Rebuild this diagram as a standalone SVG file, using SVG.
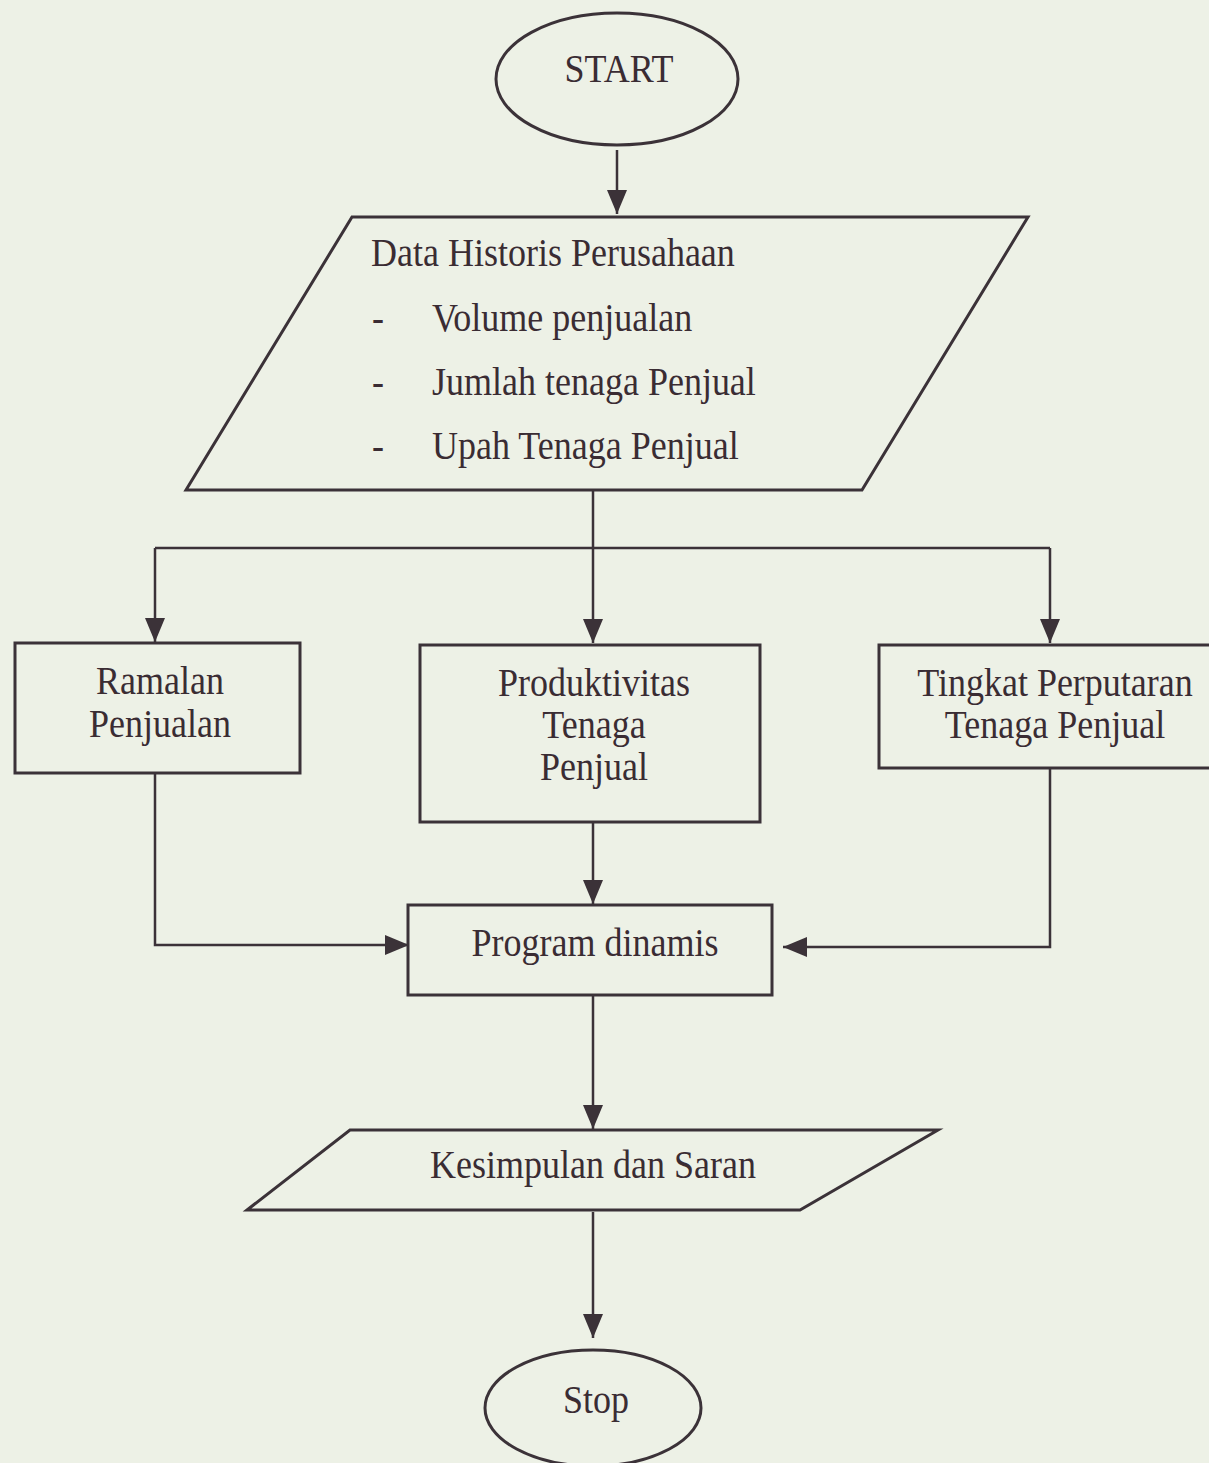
<svg xmlns="http://www.w3.org/2000/svg" width="1209" height="1463" viewBox="0 0 1209 1463">
<style>
.bg{fill:#edf1e6}
.shape{fill:none;stroke:#3b3238;stroke-width:3}
.conn{fill:none;stroke:#3b3238;stroke-width:2.5}
.t{font-family:"Liberation Serif","Times New Roman",serif;font-size:40px;fill:#3a2c33;transform-box:fill-box;transform-origin:left center;transform:scaleX(0.9)}
.c{text-anchor:middle;transform-origin:center}
</style>
<defs>
<marker id="ah" markerUnits="userSpaceOnUse" markerWidth="24" markerHeight="20" refX="24" refY="10" orient="auto" viewBox="0 0 24 20">
<path d="M0,0 L24,10 L0,20 Z" fill="#3b3238"/>
</marker>
</defs>
<rect class="bg" x="0" y="0" width="1209" height="1463"/>

<g id="connectors">
<line class="conn" x1="617" y1="150" x2="617" y2="214" marker-end="url(#ah)"/>
<line class="conn" x1="593" y1="490" x2="593" y2="548"/>
<polyline class="conn" points="155,548 1050,548"/>
<line class="conn" x1="155" y1="548" x2="155" y2="642" marker-end="url(#ah)"/>
<line class="conn" x1="593" y1="548" x2="593" y2="643" marker-end="url(#ah)"/>
<line class="conn" x1="1050" y1="548" x2="1050" y2="643" marker-end="url(#ah)"/>
<line class="conn" x1="593" y1="822" x2="593" y2="904" marker-end="url(#ah)"/>
<polyline class="conn" points="155,773 155,945 409,945" marker-end="url(#ah)"/>
<polyline class="conn" points="1050,768 1050,947 783,947" marker-end="url(#ah)"/>
<line class="conn" x1="593" y1="995" x2="593" y2="1129" marker-end="url(#ah)"/>
<line class="conn" x1="593" y1="1212" x2="593" y2="1338" marker-end="url(#ah)"/>
</g>

<g id="start">
<ellipse class="shape" cx="617" cy="79" rx="121" ry="66"/>
<text class="t c" x="619" y="82">START</text>
</g>

<g id="data-historis">
<polygon class="shape" points="352,217 1028,217 862,490 186,490"/>
<text class="t" x="371" y="266">Data Historis Perusahaan</text>
<text class="t" x="372" y="331">-</text>
<text class="t" x="432" y="331">Volume penjualan</text>
<text class="t" x="372" y="395">-</text>
<text class="t" x="432" y="395">Jumlah tenaga Penjual</text>
<text class="t" x="372" y="459">-</text>
<text class="t" x="432" y="459">Upah Tenaga Penjual</text>
</g>

<g id="ramalan">
<rect class="shape" x="15" y="643" width="285" height="130"/>
<text class="t c" x="160" y="694">Ramalan</text>
<text class="t c" x="160" y="737">Penjualan</text>
</g>

<g id="produktivitas">
<rect class="shape" x="420" y="645" width="340" height="177"/>
<text class="t c" x="594" y="696">Produktivitas</text>
<text class="t c" x="594" y="738">Tenaga</text>
<text class="t c" x="594" y="780">Penjual</text>
</g>

<g id="tingkat">
<rect class="shape" x="879" y="645" width="340" height="123"/>
<text class="t c" x="1055" y="696">Tingkat Perputaran</text>
<text class="t c" x="1055" y="738">Tenaga Penjual</text>
</g>

<g id="program">
<rect class="shape" x="408" y="905" width="364" height="90"/>
<text class="t c" x="595" y="956">Program dinamis</text>
</g>

<g id="kesimpulan">
<polygon class="shape" points="350,1130 938,1130 800,1210 247,1210"/>
<text class="t c" x="593" y="1178">Kesimpulan dan Saran</text>
</g>

<g id="stop">
<ellipse class="shape" cx="593" cy="1408" rx="108" ry="58"/>
<text class="t c" x="596" y="1413">Stop</text>
</g>
</svg>
